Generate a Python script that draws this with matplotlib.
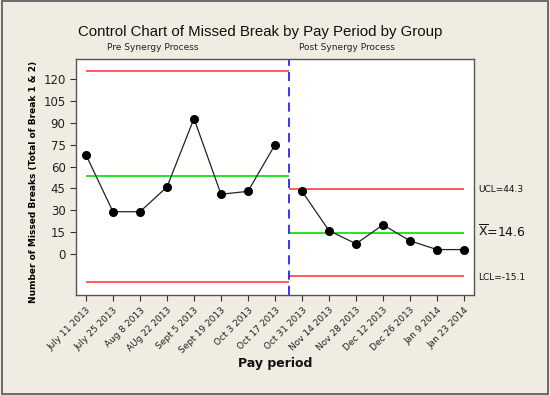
import matplotlib
matplotlib.use("Agg")
import matplotlib.pyplot as plt
from matplotlib.patches import Rectangle

dates = ["July 11 2013", "July 25 2013", "Aug 8 2013", "AUg 22 2013", "Sept 5 2013",
         "Sept 19 2013", "Oct 3 2013", "Oct 17 2013", "Oct 31 2013", "Nov 14 2013",
         "Nov 28 2013", "Dec 12 2013", "Dec 26 2013", "Jan 9 2014", "Jan 23 2014"]
pre_values = [68, 29, 29, 46, 93, 41, 43, 75]
post_values = [43, 16, 7, 20, 9, 3, 3]
pre_limits = {"ucl": 126, "center": 53.4, "lcl": -19.6}
post_limits = {"ucl": 44.3, "center": 14.6, "lcl": -15.1}
yticks = [0, 15, 30, 45, 60, 75, 90, 105, 120]

bg = "#F1ECE2"
fig = plt.figure(figsize=(5.5, 3.95), dpi=100, facecolor=bg)
fig.patches.append(Rectangle((0.003, 0.003), 0.994, 0.994, transform=fig.transFigure,
                             fill=False, edgecolor="#555555", lw=1.2))
W, H = 550, 395
ax = fig.add_axes([76 / W, 1 - 295 / H, (474 - 76) / W, (295 - 59) / H])
ax.set_facecolor("white")

n_pre = len(pre_values)
xs_pre = list(range(n_pre))
xs_post = list(range(n_pre, n_pre + len(post_values)))
split = n_pre - 0.5
last = len(dates) - 1

ax.hlines([pre_limits["ucl"], pre_limits["lcl"]], 0, split, colors="#FF4040", lw=1.2)
ax.hlines([pre_limits["center"]], 0, split, colors="#00E000", lw=1.2)
ax.hlines([post_limits["ucl"], post_limits["lcl"]], split, last, colors="#FF4040", lw=1.2)
ax.hlines([post_limits["center"]], split, last, colors="#00E000", lw=1.2)
ax.axvline(split, color="#0000FF", lw=1.1, ls=(0, (6, 4)))

ax.plot(xs_pre, pre_values, color="#222222", lw=0.9, marker="o", ms=5.5,
        mfc="black", mec="black")
ax.plot(xs_post, post_values, color="#222222", lw=0.9, marker="o", ms=5.5,
        mfc="black", mec="black")

ax.set_xlim(-0.37, 14.37)
ax.set_ylim(-28.2, 133.9)
ax.set_yticks(yticks)
ax.set_yticklabels([str(v) for v in yticks], fontsize=8.5, color="#222222")
ax.set_xticks(range(len(dates)))
ax.set_xticklabels(dates, rotation=45, ha="right", rotation_mode="anchor",
                   fontsize=6.5, color="#222222")
ax.tick_params(direction="out", length=4, width=0.8, color="#333333")
for s in ax.spines.values():
    s.set_color("#555555")
    s.set_linewidth(1.0)

ax.set_ylabel("Number of Missed Breaks (Total of Break 1 & 2)", fontsize=6.5,
              fontweight="bold")
ax.yaxis.set_label_coords(-0.095, 0.48)
fig.text(275 / W, 1 - 364 / H, "Pay period", ha="center", va="center",
         fontsize=9, fontweight="bold", color="#111111")
fig.text(260 / W, 1 - 32 / H, "Control Chart of Missed Break by Pay Period by Group",
         ha="center", va="center", fontsize=10.8, color="#111111",
         family="Liberation Sans")
fig.text(153 / W, 1 - 47 / H, "Pre Synergy Process", ha="center", va="center",
         fontsize=6.5, color="#222222")
fig.text(347 / W, 1 - 47 / H, "Post Synergy Process", ha="center", va="center",
         fontsize=6.5, color="#222222")

fig.text(478 / W, 1 - 189 / H, f"UCL={post_limits['ucl']}", ha="left", va="center",
         fontsize=6.5, color="#111111")
fig.text(478 / W, 1 - 232 / H, r"$\overline{\mathrm{X}}$=" + f"{post_limits['center']}",
         ha="left", va="center", fontsize=9, color="#111111")
fig.text(478 / W, 1 - 277 / H, f"LCL={post_limits['lcl']}", ha="left", va="center",
         fontsize=6.5, color="#111111")

fig.savefig("out.png", dpi=100, facecolor=bg)
